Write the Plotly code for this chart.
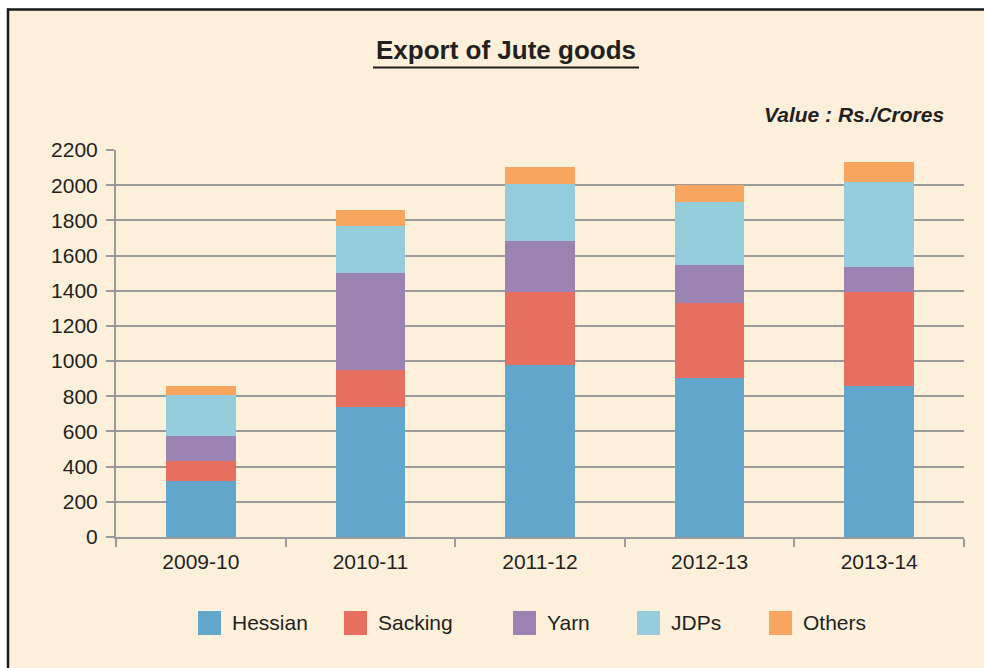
import plotly.graph_objects as go

years = ["2009-10", "2010-11", "2011-12", "2012-13", "2013-14"]
series_names = ["Hessian", "Sacking", "Yarn", "JDPs", "Others"]
hessian = [317, 738, 977, 905, 857]
sacking = [113, 212, 415, 425, 537]
yarn = [142, 550, 290, 216, 140]
jdps = [233, 268, 326, 360, 484]
others = [51, 91, 95, 95, 114]
y_ticks = [0, 200, 400, 600, 800, 1000, 1200, 1400, 1600, 1800, 2000, 2200]

colors = ["#62A7CB", "#E76F60", "#9B84B3", "#95CDDD", "#F8A65F"]
values = [hessian, sacking, yarn, jdps, others]

W, H = 984, 668
L, R, T, B = 116, 964, 150, 537
TXT = "#231F20"
GRID = "#9B9B9B"
BG = "#FDF0DA"
FONT = "Liberation Sans, Arial, sans-serif"
FS = 21


def px(x):
    return (x - L) / (R - L)


def py(y):
    return (B - y) / (B - T)


fig = go.Figure()
for name, vals, col in zip(series_names, values, colors):
    fig.add_trace(go.Bar(x=years, y=vals, name=name, marker=dict(color=col, line=dict(width=0)),
                         showlegend=False))

shapes = [
    dict(type="rect", xref="paper", yref="paper", x0=px(8.5), x1=px(1000), y0=py(8.5), y1=py(690),
         fillcolor=BG, line=dict(width=0), layer="below"),
    dict(type="line", xref="paper", yref="paper", x0=px(7), x1=px(1000), y0=py(9.5), y1=py(9.5),
         line=dict(color="#1A1A1A", width=2.5), layer="below"),
    dict(type="line", xref="paper", yref="paper", x0=px(8), x1=px(8), y0=py(8.5), y1=py(690),
         line=dict(color="#1A1A1A", width=2.5), layer="below"),
    dict(type="line", xref="paper", yref="paper", x0=px(373), x1=px(639), y0=py(67.5), y1=py(67.5),
         line=dict(color=TXT, width=2)),
]
annotations = [
    dict(text="<b>Export of Jute goods</b>", xref="paper", yref="paper", x=px(506), y=py(50),
         xanchor="center", yanchor="middle", showarrow=False, font=dict(size=26, color=TXT, family=FONT)),
    dict(text="<b><i>Value : Rs./Crores</i></b>", xref="paper", yref="paper", x=px(946), y=py(115),
         xanchor="right", yanchor="middle", showarrow=False, font=dict(size=FS, color=TXT, family=FONT)),
]

legend_sq_x = [198, 344, 513, 637, 769]
for name, col, lx in zip(series_names, colors, legend_sq_x):
    shapes.append(dict(type="rect", xref="paper", yref="paper", x0=px(lx), x1=px(lx + 23),
                       y0=py(611), y1=py(635), fillcolor=col, line=dict(width=0)))
    annotations.append(dict(text=name, xref="paper", yref="paper", x=px(lx + 32), y=py(622),
                            xanchor="left", yanchor="middle", showarrow=False,
                            font=dict(size=FS, color=TXT, family=FONT)))

fig.update_layout(
    width=W, height=H,
    margin=dict(l=L, r=W - R, t=T, b=H - B, pad=0),
    barmode="stack",
    bargap=0.59,
    paper_bgcolor="white",
    plot_bgcolor="rgba(0,0,0,0)",
    font=dict(family=FONT, size=FS, color=TXT),
    shapes=shapes,
    annotations=annotations,
    showlegend=False,
)
fig.update_xaxes(
    type="category", showline=True, linecolor=GRID, linewidth=2,
    ticks="outside", tickson="boundaries", ticklen=8, tickwidth=2, tickcolor=GRID,
    showgrid=False, tickfont=dict(size=FS, color=TXT, family=FONT), ticklabelstandoff=5,
)
fig.update_yaxes(
    range=[0, 2200], tickvals=y_ticks, showline=True, linecolor=GRID, linewidth=2,
    ticks="outside", ticklen=8, tickwidth=2, tickcolor=GRID,
    showgrid=True, gridcolor=GRID, gridwidth=2, zeroline=False,
    tickfont=dict(size=FS, color=TXT, family=FONT), ticklabelstandoff=4,
)

fig.write_html(
    "out.html",
    config={"displayModeBar": False},
    post_script="document.body.style.margin='0';document.body.style.overflow='hidden';",
)
